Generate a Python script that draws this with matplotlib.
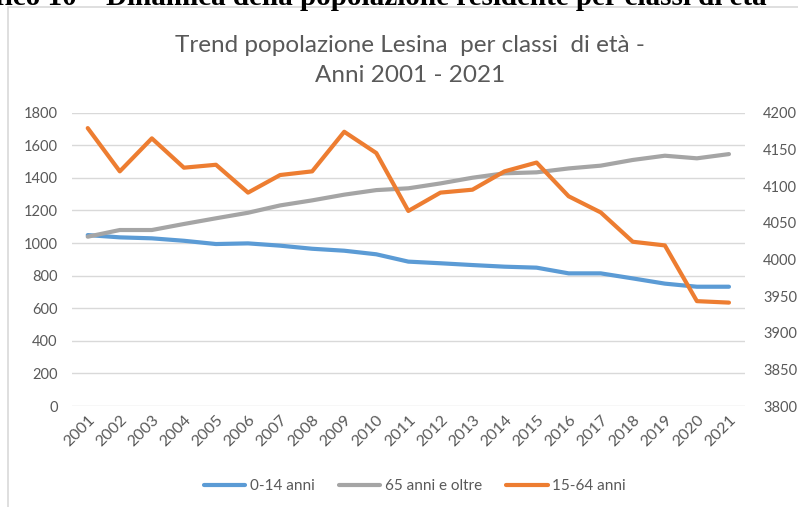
import matplotlib.pyplot as plt
from matplotlib.patches import Rectangle

years = [str(y) for y in range(2001, 2022)]
age_0_14 = [1049, 1035, 1029, 1014, 994, 998, 984, 965, 953, 931, 886,
            876, 865, 855, 849, 814, 814, 783, 751, 732, 732]
age_65_plus = [1039, 1080, 1080, 1117, 1152, 1186, 1231, 1262, 1297, 1325, 1336,
               1366, 1401, 1428, 1434, 1458, 1475, 1510, 1536, 1520, 1546]
age_15_64 = [4179, 4120, 4165, 4125, 4129, 4091, 4115, 4120, 4174, 4145, 4066,
             4091, 4095, 4120, 4132, 4086, 4064, 4024, 4019, 3943, 3941]

blue = '#5B9BD5'
gray = '#A5A5A5'
orange = '#ED7D31'
txt = '#595959'
font = 'Lato'

plt.rcParams['font.family'] = [font, 'DejaVu Sans']

fig = plt.figure(figsize=(7.98, 5.07), dpi=100)

# chart frame and the clipped caption above it
fig.patches.append(Rectangle((8 / 798, -0.01), 1.0, 1 - 7 / 507 + 0.01,
                             transform=fig.transFigure, fill=False,
                             edgecolor='#D9D9D9', lw=1.2))
fig.text(767 / 798, 1 - 5 / 507,
         'Grafico 10 – Dinamica della popolazione residente per classi di età',
         ha='right', va='baseline', fontsize=21, fontweight='bold',
         family='Liberation Serif', color='black')

ax = fig.add_axes([71.7 / 798, 1 - 406 / 507, (745 - 71.7) / 798, (406 - 112.7) / 507])
ax2 = ax.twinx()

x = range(len(years))
l1, = ax.plot(x, age_0_14, color=blue, lw=3, solid_capstyle='round', label='0-14 anni')
l2, = ax.plot(x, age_65_plus, color=gray, lw=3, solid_capstyle='round', label='65 anni e oltre')
l3, = ax2.plot(x, age_15_64, color=orange, lw=3, solid_capstyle='round', label='15-64 anni')

ax.set_xlim(-0.5, len(years) - 0.5)
ax.set_ylim(0, 1800)
ax.set_yticks(range(0, 1801, 200))
ax2.set_ylim(3800, 4200)
ax2.set_yticks(range(3800, 4201, 50))

ax.set_xticks(list(x))
ax.set_xticklabels(years, rotation=45, ha='right', rotation_mode='anchor')
ax.grid(axis='y', color='#D9D9D9', lw=1)
ax.set_axisbelow(True)

for a in (ax, ax2):
    for s in a.spines.values():
        s.set_visible(False)
    a.tick_params(length=0, colors=txt, labelsize=10.5)
ax.tick_params(axis='y', pad=10)
ax.tick_params(axis='x', pad=5, labelsize=11.5)
ax2.tick_params(axis='y', pad=13)

fig.text(0.514, 1 - 45 / 507, 'Trend popolazione Lesina  per classi  di età -',
         ha='center', va='center', fontsize=17.5, color=txt)
fig.text(0.514, 1 - 75 / 507, 'Anni 2001 - 2021',
         ha='center', va='center', fontsize=17.5, color=txt)

fig.legend(handles=[l1, l2, l3], loc='center', bbox_to_anchor=(0.52, 1 - 486 / 507),
           ncol=3, frameon=False, fontsize=11, labelcolor=txt,
           handlelength=2.7, handletextpad=0.3, columnspacing=1.6)

fig.savefig('out.png', dpi=100)
